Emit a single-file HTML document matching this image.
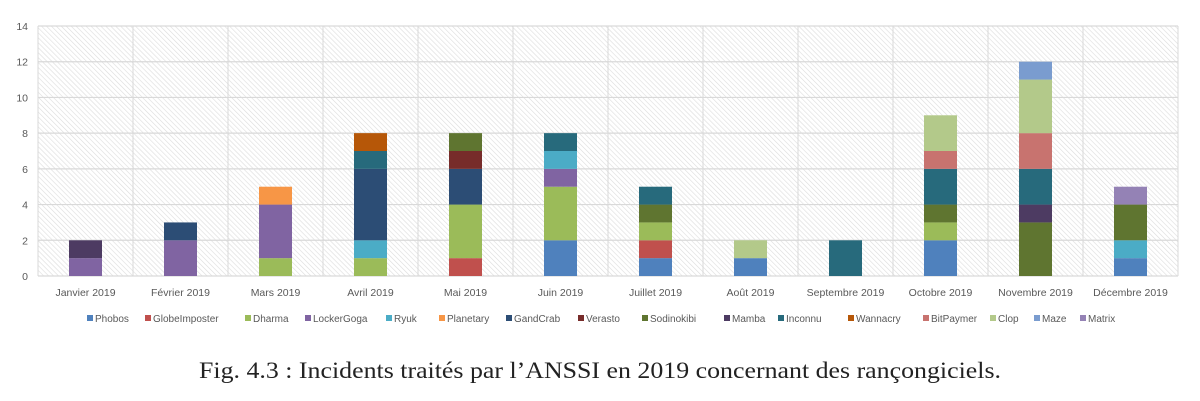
<!DOCTYPE html>
<html><head><meta charset="utf-8"><style>
html,body{margin:0;padding:0;background:#fff;width:1200px;height:401px;overflow:hidden}
svg text{font-family:"Liberation Sans",sans-serif}
</style></head><body>
<svg id="chart" width="1200" height="401" xmlns="http://www.w3.org/2000/svg">
<defs>
<pattern id="hatch" width="3.5" height="3.5" patternUnits="userSpaceOnUse" patternTransform="rotate(-45)">
<rect width="3.5" height="3.5" fill="#ffffff"/>
<line x1="0" y1="0" x2="0" y2="3.5" stroke="#dcdcdc" stroke-width="1.2"/>
</pattern>
</defs>
<rect x="38" y="26" width="1140" height="250" fill="url(#hatch)"/>
<g id="grid"></g>
<g id="bars"></g>
<g id="axes"></g>
<g id="legend"></g>
<text x="600" y="378" text-anchor="middle" font-size="23" fill="#222" textLength="802" lengthAdjust="spacingAndGlyphs" style="font-family:'Liberation Serif',serif">Fig. 4.3 : Incidents traités par l’ANSSI en 2019 concernant des rançongiciels.</text>
</svg>
<script>
const months = ["Janvier 2019","Février 2019","Mars 2019","Avril 2019","Mai 2019","Juin 2019","Juillet 2019","Août 2019","Septembre 2019","Octobre 2019","Novembre 2019","Décembre 2019"];
const seriesNames = ["Phobos","GlobeImposter","Dharma","LockerGoga","Ryuk","Planetary","GandCrab","Verasto","Sodinokibi","Mamba","Inconnu","Wannacry","BitPaymer","Clop","Maze","Matrix"];
const seriesColors = ["#4f81bd","#c0504d","#9bbb59","#8064a2","#4bacc6","#f79646","#2c4d75","#772c2a","#5f7530","#4d3b62","#276a7c","#b65708","#c8736f","#b3c98a","#7a9ccf","#9482b5"];
const phobos       = [0,0,0,0,0,2,1,1,0,2,0,1];
const globeimposter= [0,0,0,0,1,0,1,0,0,0,0,0];
const dharma       = [0,0,1,1,3,3,1,0,0,1,0,0];
const lockergoga   = [1,2,3,0,0,1,0,0,0,0,0,0];
const ryuk         = [0,0,0,1,0,1,0,0,0,0,0,1];
const planetary    = [0,0,1,0,0,0,0,0,0,0,0,0];
const gandcrab     = [0,1,0,4,2,0,0,0,0,0,0,0];
const verasto      = [0,0,0,0,1,0,0,0,0,0,0,0];
const sodinokibi   = [0,0,0,0,1,0,1,0,0,1,3,2];
const mamba        = [1,0,0,0,0,0,0,0,0,0,1,0];
const inconnu      = [0,0,0,1,0,1,1,0,2,2,2,0];
const wannacry     = [0,0,0,1,0,0,0,0,0,0,0,0];
const bitpaymer    = [0,0,0,0,0,0,0,0,0,1,2,0];
const clop         = [0,0,0,0,0,0,0,1,0,2,3,0];
const maze         = [0,0,0,0,0,0,0,0,0,0,1,0];
const matrix       = [0,0,0,0,0,0,0,0,0,0,0,1];
const yTicks = [0,2,4,6,8,10,12,14];
const legendX = [90,148,248,308,389,442,509,581,645,727,781,851,926,993,1037,1083];

const series=[phobos,globeimposter,dharma,lockergoga,ryuk,planetary,gandcrab,verasto,sodinokibi,mamba,inconnu,wannacry,bitpaymer,clop,maze,matrix];
const NS="http://www.w3.org/2000/svg";
const L=38,R=1178,T=26,B=276,YMAX=14;
const bw=(R-L)/months.length, barW=33;
const y=v=>B-(v/YMAX)*(B-T);
const xc=i=>L+bw*(i+0.5);
function mk(tag,attrs,parent){const e=document.createElementNS(NS,tag);for(const k in attrs)e.setAttribute(k,attrs[k]);document.getElementById(parent).appendChild(e);return e;}
yTicks.forEach(t=>{
  const l=mk('line',{x1:L,x2:R,y1:y(t),y2:y(t),stroke:'#d9d9d9','stroke-width':1.2},'grid');
  
  
  const tx=mk('text',{x:L-10,y:y(t)+4,'text-anchor':'end','font-size':10.5,fill:'#595959'},'axes');
  tx.textContent=t;
  
  
});
for(let i=0;i<=months.length;i++){
  const l=mk('line',{x1:L+bw*i,x2:L+bw*i,y1:T,y2:B,stroke:'#d9d9d9','stroke-width':1},'grid');
  
  
}
months.forEach((m,i)=>{
  let acc=0;
  series.forEach((s,k)=>{
    const v=s[i]; if(!v) return;
    const r=mk('rect',{x:xc(i)-barW/2,y:y(acc+v),width:barW,height:y(acc)-y(acc+v),fill:seriesColors[k]},'bars');
    
    
    acc+=v;
  });
  const tx=mk('text',{x:xc(i),y:296,'text-anchor':'middle','font-size':10.5,fill:'#595959'},'axes');
  tx.textContent=m;
  
  
});
seriesNames.forEach((n,k)=>{
  const g=mk('g',{},'legend');
  
  
  const r=document.createElementNS(NS,'rect');
  r.setAttribute('x',legendX[k]-3);r.setAttribute('y',315);r.setAttribute('width',6);r.setAttribute('height',6);r.setAttribute('fill',seriesColors[k]);
  
  
  g.appendChild(r);
  const t=document.createElementNS(NS,'text');
  t.setAttribute('x',legendX[k]+5);t.setAttribute('y',322);t.setAttribute('font-size',10);t.setAttribute('fill','#595959');
  t.textContent=n;
  
  
  g.appendChild(t);
});
</script>
</body></html>
